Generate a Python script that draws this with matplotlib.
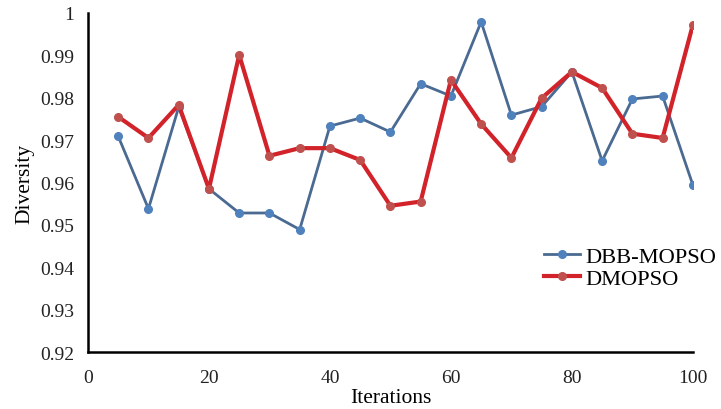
import matplotlib.pyplot as plt

# data
iterations = [5, 10, 15, 20, 25, 30, 35, 40, 45, 50, 55, 60, 65, 70, 75, 80, 85, 90, 95, 100]
dbb_mopso = [0.9709, 0.9538, 0.9778, 0.9585, 0.9528, 0.9528, 0.9489, 0.9733, 0.9752, 0.9719,
             0.9833, 0.9804, 0.9979, 0.9759, 0.9779, 0.9861, 0.9651, 0.9797, 0.9804, 0.9594]
dmopso = [0.9755, 0.9705, 0.9783, 0.9585, 0.9901, 0.9663, 0.9681, 0.9681, 0.9653, 0.9545,
          0.9555, 0.9842, 0.9738, 0.9658, 0.9799, 0.9861, 0.9823, 0.9715, 0.9705, 0.9972]
x_ticks = [0, 20, 40, 60, 80, 100]
y_ticks = [0.92, 0.93, 0.94, 0.95, 0.96, 0.97, 0.98, 0.99, 1.0]
y_labels = ['0.92', '0.93', '0.94', '0.95', '0.96', '0.97', '0.98', '0.99', '1']

plt.rcParams['font.family'] = ['Liberation Serif', 'DejaVu Serif']

fig = plt.figure(figsize=(7.21, 4.10), dpi=100)
ax = fig.add_axes([0.122, 0.139, 0.839, 0.827])

ax.plot(iterations, dbb_mopso, color='#4a6a92', linewidth=2, marker='o',
        markersize=5.5, markerfacecolor='#4f81bd', markeredgecolor='#4f81bd', label='DBB-MOPSO')
ax.plot(iterations, dmopso, color='#d2222a', linewidth=3, marker='o',
        markersize=5.5, markerfacecolor='#c0504d', markeredgecolor='#c0504d', label='DMOPSO')

ax.set_xlim(0, 100)
ax.set_ylim(0.92, 1.0)
ax.set_xticks(x_ticks)
ax.set_yticks(y_ticks)
ax.set_yticklabels(y_labels)
ax.tick_params(length=0, labelsize=14, colors='#222222')
ax.tick_params(axis='y', pad=10)
ax.tick_params(axis='x', pad=12)

for side in ['top', 'right']:
    ax.spines[side].set_visible(False)
for side in ['left', 'bottom']:
    ax.spines[side].set_linewidth(1.8)
    ax.spines[side].set_color('black')

ax.set_xlabel('Iterations', fontsize=15.5, labelpad=2)
ax.set_ylabel('Diversity', fontsize=15.5, labelpad=4)

ax.legend(loc='upper left', bbox_to_anchor=(0.735, 0.345), frameon=False, fontsize=16.2,
          handlelength=1.6, handletextpad=0.25, labelspacing=0.05, borderpad=0)

fig.savefig('out.png', dpi=100)
